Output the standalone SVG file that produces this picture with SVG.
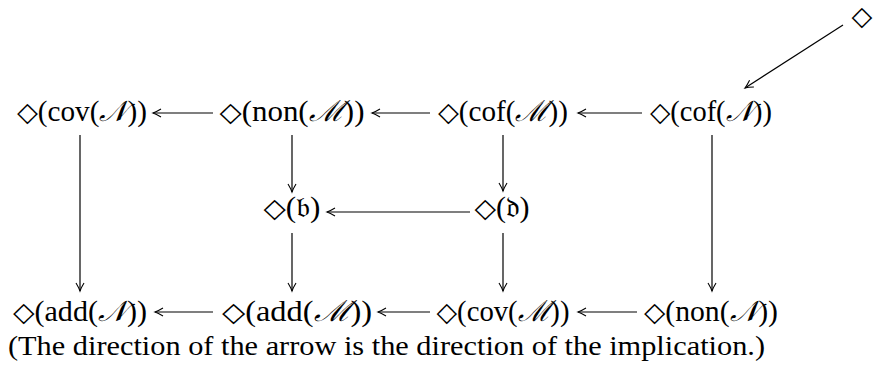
<svg xmlns="http://www.w3.org/2000/svg" width="883" height="369" viewBox="0 0 883 369">
<defs>
<marker id="ah" viewBox="-10 -6 12 12" refX="0" refY="0" markerWidth="12" markerHeight="12" markerUnits="userSpaceOnUse" orient="auto">
<path d="M -8 -4 Q -3 -1 0 0 Q -3 1 -8 4" fill="none" stroke="#000" stroke-width="1.1"/>
</marker>
<style>
.t{font-family:"Liberation Serif","DejaVu Serif",serif;font-size:29px;fill:#000;text-anchor:middle}
.d{font-family:"DejaVu Sans",sans-serif;font-size:27px}
.c{font-family:"Liberation Serif","DejaVu Serif",serif;font-size:28px;fill:#000}
.i{font-style:italic}
line{stroke:#000;stroke-width:1.2;marker-end:url(#ah)}
</style>
</defs>
<rect width="883" height="369" fill="#fff"/>
<g id="connectors">
<line x1="213" y1="113" x2="153" y2="113"/>
<line x1="430" y1="113" x2="372" y2="113"/>
<line x1="642" y1="113" x2="578" y2="113"/>
<line x1="843" y1="25" x2="745" y2="88"/>
<line x1="80" y1="135" x2="80" y2="291"/>
<line x1="292" y1="135" x2="292" y2="192"/>
<line x1="503" y1="135" x2="503" y2="191"/>
<line x1="712" y1="135" x2="712" y2="291"/>
<line x1="470" y1="212" x2="327" y2="212"/>
<line x1="292" y1="233" x2="292" y2="291"/>
<line x1="503" y1="233" x2="503" y2="291"/>
<line x1="213" y1="312" x2="155" y2="312"/>
<line x1="430" y1="312" x2="378" y2="312"/>
<line x1="637" y1="312" x2="578" y2="312"/>
</g>
<g id="n-top"><text class="t" x="862" y="25"><tspan class="d">◇</tspan></text></g>
<g id="n-covN"><text class="t" x="82" y="121" textLength="130" lengthAdjust="spacingAndGlyphs"><tspan class="d">◇</tspan>(cov(<tspan class="i">𝒩</tspan>))</text></g>
<g id="n-nonM"><text class="t" x="292" y="121" textLength="145" lengthAdjust="spacingAndGlyphs"><tspan class="d">◇</tspan>(non(<tspan class="i">ℳ</tspan>))</text></g>
<g id="n-cofM"><text class="t" x="503" y="121" textLength="130" lengthAdjust="spacingAndGlyphs"><tspan class="d">◇</tspan>(cof(<tspan class="i">ℳ</tspan>))</text></g>
<g id="n-cofN"><text class="t" x="711" y="121" textLength="122" lengthAdjust="spacingAndGlyphs"><tspan class="d">◇</tspan>(cof(<tspan class="i">𝒩</tspan>))</text></g>
<g id="n-b"><text class="t" x="292" y="217" textLength="57" lengthAdjust="spacingAndGlyphs"><tspan class="d">◇</tspan>(𝔟)</text></g>
<g id="n-d"><text class="t" x="502" y="217" textLength="55" lengthAdjust="spacingAndGlyphs"><tspan class="d">◇</tspan>(𝔡)</text></g>
<g id="n-addN"><text class="t" x="80" y="321" textLength="134" lengthAdjust="spacingAndGlyphs"><tspan class="d">◇</tspan>(add(<tspan class="i">𝒩</tspan>))</text></g>
<g id="n-addM"><text class="t" x="297" y="321" textLength="150" lengthAdjust="spacingAndGlyphs"><tspan class="d">◇</tspan>(add(<tspan class="i">ℳ</tspan>))</text></g>
<g id="n-covM"><text class="t" x="503" y="321" textLength="133" lengthAdjust="spacingAndGlyphs"><tspan class="d">◇</tspan>(cov(<tspan class="i">ℳ</tspan>))</text></g>
<g id="n-nonN"><text class="t" x="711" y="321" textLength="134" lengthAdjust="spacingAndGlyphs"><tspan class="d">◇</tspan>(non(<tspan class="i">𝒩</tspan>))</text></g>
<g id="caption"><text class="c" x="8" y="355" textLength="757" lengthAdjust="spacingAndGlyphs">(The direction of the arrow is the direction of the implication.)</text></g>
</svg>
